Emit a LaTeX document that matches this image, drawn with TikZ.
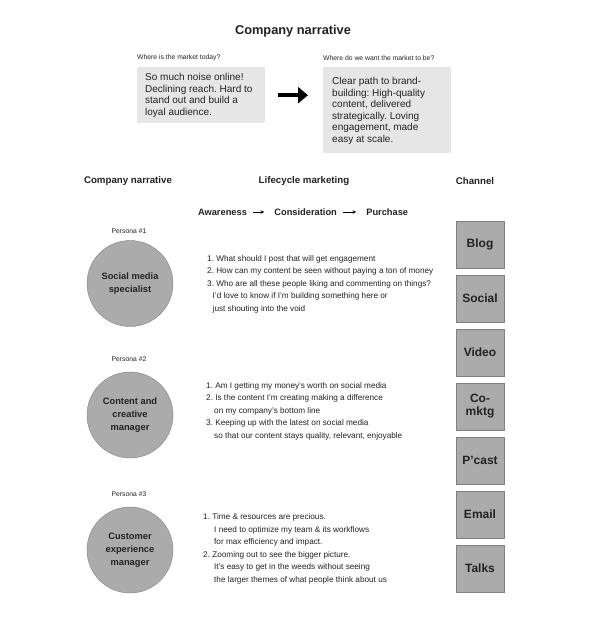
\documentclass[tikz,border=0pt]{standalone}
\usepackage{fontspec}
\setmainfont{Liberation Sans}
\usetikzlibrary{arrows.meta,positioning}
\definecolor{boxgray}{HTML}{E6E6E6}
\definecolor{chgray}{HTML}{ABABAB}
\definecolor{edgegray}{HTML}{808080}
\definecolor{ink}{HTML}{222222}
\frenchspacing

\begin{document}
\begin{tikzpicture}[x=1pt,y=-1pt,text=ink,
  note/.style={fill=boxgray,anchor=north west,minimum width=128pt,inner sep=0pt},
  notetext/.style={anchor=west,align=left,inner sep=0pt,font=\fontsize{10}{11.5}\selectfont},
  tag/.style={font=\fontsize{6.8}{7}\selectfont,inner sep=0pt},
  head/.style={font=\bfseries\fontsize{9.7}{11}\selectfont,inner sep=0pt},
  stage/.style={font=\bfseries\fontsize{9.3}{11}\selectfont,inner sep=0pt},
  persona/.style={circle,draw=edgegray,fill=chgray,minimum size=86pt,inner sep=0pt,align=center,font=\bfseries\fontsize{9.3}{13}\selectfont},
  need/.style={anchor=west,align=left,inner sep=0pt,font=\fontsize{8.2}{12.5}\selectfont},
  chan/.style={draw=edgegray,fill=chgray,minimum width=48pt,minimum height=47pt,inner sep=0pt,align=center,font=\bfseries\fontsize{12}{13}\selectfont}]
\useasboundingbox (0,0) rectangle (600,634);
% top: where we are, where we go
\node[font=\bfseries\fontsize{12.8}{14}\selectfont] (title) at (293,31) {Company narrative};
\node[tag,anchor=west] (todaytag) at (137,58) {Where is the market today?};
\node[tag,anchor=west] (goaltag) at (323,58) {Where do we want the market to be?};
\node[note,minimum height=56pt] (today) at (137,67) {};
\node[notetext] (todaytxt) at ([xshift=8pt]today.west) {So much noise online!\\Declining reach. Hard to\\stand out and build a\\loyal audience.};
\node[note,minimum height=86pt] (goal) at (323,67) {};
\node[notetext] (goaltxt) at ([xshift=9pt,yshift=-.5pt]goal.west) {Clear path to brand-\\building: High-quality\\content, delivered\\strategically. Loving\\engagement, made\\easy at scale.};
\draw[line width=3.5pt,-{Triangle[length=10pt,width=16pt]},shorten <=13pt,shorten >=15pt] (today.east) -- (today.east -| goal.west);
% column heads
\node[head] (hnarr) at (128,181) {Company narrative};\node[head] (hlife) at (304,181) {Lifecycle marketing};\node[head] (hchan) at (475,181) {Channel};
\node[stage] (aware) at (222.5,212) {Awareness};\node[stage,right=27pt of aware] (consid) {Consideration};\node[stage,right=29pt of consid] (purch) {Purchase};
\foreach \a/\b in {aware/consid,consid/purch}{\draw[line width=.8pt,-{Stealth[length=3.5pt,width=3.5pt]},shorten <=6pt,shorten >=10pt] (\a) -- (\b);}
% personas
\node[tag] (tag1) at (129,231) {Persona \#1};\node[persona] (p1) at (130,283.5) {Social media\\specialist};
\node[tag] (tag2) at (129,359) {Persona \#2};\node[persona] (p2) at (130,415) {Content and\\creative\\manager};
\node[tag] (tag3) at (129,494) {Persona \#3};\node[persona] (p3) at (130,550) {Customer\\experience\\manager};
\node[need] (need1) at (207,284) {1. What should I post that will get engagement\\2. How can my content be seen without paying a ton of money\\3. Who are all these people liking and commenting on things?\\\hspace*{5.5pt}I’d love to know if I’m building something here or\\\hspace*{5.5pt}just shouting into the void};
\node[need] (need2) at (206,411) {1. Am I getting my money’s worth on social media\\2. Is the content I’m creating making a difference\\\hspace*{8pt}on my company’s bottom line\\3. Keeping up with the latest on social media\\\hspace*{8pt}so that our content stays quality, relevant, enjoyable};
\node[need] (need3) at (203,549) {1. Time \& resources are precious.\\\hspace*{11pt}I need to optimize my team \& its workflows\\\hspace*{11pt}for max efficiency and impact.\\2. Zooming out to see the bigger picture.\\\hspace*{11pt}It’s easy to get in the weeds without seeing\\\hspace*{11pt}the larger themes of what people think about us};
% channels
\foreach \lab [count=\i] in {Blog,Social,Video,{Co-\\mktg},P’cast,Email,Talks}{\node[chan] (ch\i) at (480,190.5+54*\i) {\lab};}
\end{tikzpicture}
\end{document}
